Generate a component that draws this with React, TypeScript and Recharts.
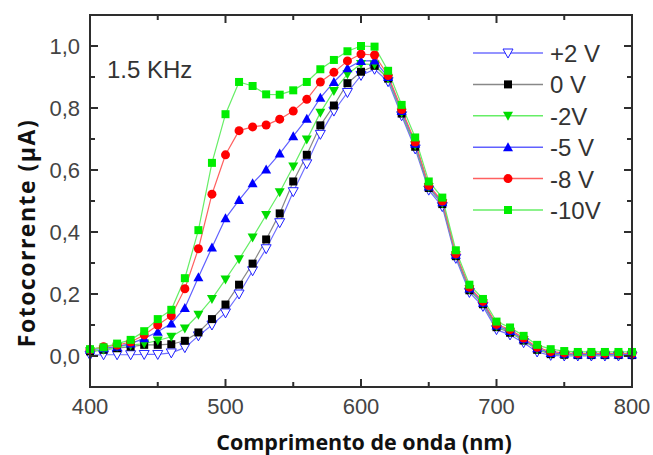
import React from 'react';
import { LineChart, Line, XAxis, YAxis, Legend } from 'recharts';

// comprimento de onda (nm)
const WAVELENGTH = [
  400, 410, 420, 430, 440, 450, 460, 470, 480, 490, 500, 510, 520, 530, 540, 550, 560, 570, 580, 590,
  600, 610, 620, 630, 640, 650, 660, 670, 680, 690, 700, 710, 720, 730, 740, 750, 760, 770, 780, 790, 800,
];

// fotocorrente (µA) por tensão
const PLUS_2V = [
  0.003, 0.004, 0.004, 0.004, 0.005, 0.005, 0.01, 0.027, 0.065, 0.1, 0.139, 0.2, 0.275, 0.346, 0.43, 0.53,
  0.62, 0.715, 0.79, 0.85, 0.905, 0.925, 0.885, 0.775, 0.668, 0.535, 0.482, 0.315, 0.205, 0.16, 0.085,
  0.068, 0.043, 0.013, 0.002, 0.0, 0.0, 0.0, 0.0, 0.0, 0.0,
];
const ZERO_V = [
  0.015, 0.02, 0.025, 0.03, 0.036, 0.036, 0.038, 0.049, 0.076, 0.119, 0.166, 0.23, 0.298, 0.376, 0.46,
  0.563, 0.649, 0.744, 0.808, 0.88, 0.917, 0.936, 0.895, 0.782, 0.675, 0.542, 0.49, 0.322, 0.212, 0.167,
  0.093, 0.075, 0.05, 0.02, 0.006, 0.004, 0.003, 0.003, 0.003, 0.003, 0.003,
];
const MINUS_2V = [
  0.015, 0.02, 0.03, 0.035, 0.04, 0.05, 0.062, 0.089, 0.133, 0.184, 0.247, 0.312, 0.382, 0.455, 0.528,
  0.611, 0.698, 0.785, 0.855, 0.909, 0.942, 0.94, 0.895, 0.785, 0.68, 0.545, 0.493, 0.325, 0.215, 0.17,
  0.096, 0.078, 0.052, 0.022, 0.008, 0.005, 0.004, 0.004, 0.004, 0.004, 0.004,
];
const MINUS_5V = [
  0.02, 0.025, 0.03, 0.04, 0.057, 0.078, 0.105, 0.155, 0.254, 0.35, 0.444, 0.503, 0.557, 0.602, 0.653,
  0.709, 0.765, 0.833, 0.884, 0.928, 0.952, 0.953, 0.9, 0.79, 0.685, 0.547, 0.496, 0.327, 0.218, 0.172,
  0.098, 0.081, 0.054, 0.025, 0.01, 0.007, 0.005, 0.005, 0.005, 0.005, 0.005,
];
const MINUS_8V = [
  0.02, 0.03, 0.035, 0.045, 0.068, 0.1, 0.13, 0.217, 0.346, 0.522, 0.649, 0.727, 0.739, 0.745, 0.764,
  0.79, 0.828, 0.884, 0.915, 0.952, 0.974, 0.971, 0.905, 0.795, 0.69, 0.55, 0.5, 0.33, 0.222, 0.176,
  0.102, 0.085, 0.058, 0.028, 0.014, 0.01, 0.008, 0.008, 0.008, 0.008, 0.008,
];
const MINUS_10V = [
  0.022, 0.028, 0.04, 0.052, 0.08, 0.119, 0.149, 0.251, 0.406, 0.623, 0.78, 0.884, 0.871, 0.844, 0.843,
  0.857, 0.884, 0.925, 0.955, 0.983, 1.0, 0.998, 0.92, 0.81, 0.705, 0.563, 0.511, 0.341, 0.23, 0.184,
  0.111, 0.092, 0.065, 0.036, 0.022, 0.016, 0.013, 0.013, 0.013, 0.013, 0.013,
];

const X_TICKS = [400, 450, 500, 550, 600, 650, 700, 750, 800];
const Y_TICKS = [0, 0.1, 0.2, 0.3, 0.4, 0.5, 0.6, 0.7, 0.8, 0.9, 1.0];

type Shape = 'triDownOpen' | 'square' | 'triDown' | 'triUp' | 'circle';

const SERIES: { key: string; name: string; line: string; color: string; shape: Shape }[] = [
  { key: 'p2', name: '+2 V', line: '#7070ff', color: '#2020ff', shape: 'triDownOpen' },
  { key: 'z0', name: '0 V', line: '#888888', color: '#000000', shape: 'square' },
  { key: 'm2', name: '-2V', line: '#66ee66', color: '#00dd00', shape: 'triDown' },
  { key: 'm5', name: '-5 V', line: '#6060ff', color: '#0000ff', shape: 'triUp' },
  { key: 'm8', name: '-8 V', line: '#ff6060', color: '#ff0000', shape: 'circle' },
  { key: 'm10', name: '-10V', line: '#66ee66', color: '#00ee00', shape: 'square' },
];

const data = WAVELENGTH.map((nm, i) => ({
  nm,
  p2: PLUS_2V[i],
  z0: ZERO_V[i],
  m2: MINUS_2V[i],
  m5: MINUS_5V[i],
  m8: MINUS_8V[i],
  m10: MINUS_10V[i],
}));

const W = 653;
const H = 455;
const PLOT = { left: 90, right: 632, top: 15, bottom: 387 };
const AXIS_COLOR = '#2e2e2e';
const LABEL_COLOR = '#444444';
const X_DOMAIN = [400, 800];
const Y_DOMAIN = [-0.1, 1.1];

// same linear mapping as the chart's axes, used only for the box ticks
const px = (v: number) => PLOT.left + ((v - X_DOMAIN[0]) / (X_DOMAIN[1] - X_DOMAIN[0])) * (PLOT.right - PLOT.left);
const py = (v: number) => PLOT.bottom - ((v - Y_DOMAIN[0]) / (Y_DOMAIN[1] - Y_DOMAIN[0])) * (PLOT.bottom - PLOT.top);

const Marker = ({ shape, color, cx, cy }: { shape: Shape; color: string; cx: number; cy: number }) => {
  const s = 5;
  switch (shape) {
    case 'square':
      return <rect x={cx - 4} y={cy - 4} width={8} height={8} fill={color} />;
    case 'circle':
      return <circle cx={cx} cy={cy} r={4.5} fill={color} />;
    case 'triUp':
      return <polygon points={`${cx - s},${cy + 4} ${cx + s},${cy + 4} ${cx},${cy - 5}`} fill={color} />;
    case 'triDown':
      return <polygon points={`${cx - s},${cy - 4} ${cx + s},${cy - 4} ${cx},${cy + 5}`} fill={color} />;
    default:
      return (
        <polygon
          points={`${cx - s},${cy - 4} ${cx + s},${cy - 4} ${cx},${cy + 5}`}
          fill="#ffffff"
          stroke={color}
          strokeWidth={1}
        />
      );
  }
};

const makeDot = (shape: Shape, color: string) => (props: any) => {
  const { cx, cy, index } = props;
  if (cx == null || cy == null) return <g key={index} />;
  return (
    <g key={index}>
      <Marker shape={shape} color={color} cx={cx} cy={cy} />
    </g>
  );
};

const isMajorX = (v: number) => v % 100 === 0;
const isMajorY = (v: number) => Math.round(v * 10) % 2 === 0;

const XTick = ({ x, payload }: any) =>
  isMajorX(payload.value) ? (
    <text x={x} y={PLOT.bottom + 27} textAnchor="middle" fontSize={22} fill={LABEL_COLOR}>
      {payload.value}
    </text>
  ) : (
    <g />
  );

const YTick = ({ y, payload }: any) =>
  isMajorY(payload.value) ? (
    <text x={PLOT.left - 10} y={y + 8} textAnchor="end" fontSize={22} fill={LABEL_COLOR}>
      {payload.value.toFixed(1).replace('.', ',')}
    </text>
  ) : (
    <g />
  );

// closed box with inward ticks on all four sides
const Frame = () => (
  <svg width={W} height={H} style={{ position: 'absolute', left: 0, top: 0, pointerEvents: 'none' }}>
    <rect
      x={PLOT.left}
      y={PLOT.top}
      width={PLOT.right - PLOT.left}
      height={PLOT.bottom - PLOT.top}
      fill="none"
      stroke={AXIS_COLOR}
      strokeWidth={2}
    />
    {X_TICKS.map((v) => {
      const len = isMajorX(v) ? 8 : 5;
      return (
        <g key={`x${v}`}>
          <line x1={px(v)} x2={px(v)} y1={PLOT.bottom} y2={PLOT.bottom - len} stroke={AXIS_COLOR} strokeWidth={2} />
          <line x1={px(v)} x2={px(v)} y1={PLOT.top} y2={PLOT.top + len} stroke={AXIS_COLOR} strokeWidth={2} />
        </g>
      );
    })}
    {Y_TICKS.map((v) => {
      const len = isMajorY(v) ? 8 : 5;
      return (
        <g key={`y${v}`}>
          <line x1={PLOT.left} x2={PLOT.left + len} y1={py(v)} y2={py(v)} stroke={AXIS_COLOR} strokeWidth={2} />
          <line x1={PLOT.right} x2={PLOT.right - len} y1={py(v)} y2={py(v)} stroke={AXIS_COLOR} strokeWidth={2} />
        </g>
      );
    })}
  </svg>
);

const LegendBox = () => (
  <svg width={180} height={190}>
    {SERIES.map((s, i) => {
      const y = 15 + i * 31.4;
      return (
        <g key={s.key}>
          <line x1={3} x2={73} y1={y} y2={y} stroke={s.line} strokeWidth={1.5} />
          <Marker shape={s.shape} color={s.color} cx={38} cy={y} />
          <text x={80} y={y + 9} fontSize={24} fill="#333333">
            {s.name}
          </text>
        </g>
      );
    })}
  </svg>
);

const App: React.FC = () => {
  return (
    <div
      style={{
        position: 'absolute',
        left: 0,
        top: 0,
        width: W,
        height: H,
        background: '#ffffff',
        overflow: 'hidden',
        fontFamily: '"Liberation Sans", Arial, sans-serif',
      }}
    >
      <LineChart
        width={W}
        height={H}
        data={data}
        margin={{ top: PLOT.top, right: W - PLOT.right, bottom: 0, left: 0 }}
      >
        <XAxis
          dataKey="nm"
          type="number"
          domain={X_DOMAIN}
          ticks={X_TICKS}
          height={H - PLOT.bottom}
          axisLine={{ stroke: AXIS_COLOR, strokeWidth: 2 }}
          tickLine={false}
          tick={XTick}
          interval={0}
        />
        <YAxis
          type="number"
          domain={Y_DOMAIN}
          ticks={Y_TICKS}
          width={PLOT.left}
          axisLine={{ stroke: AXIS_COLOR, strokeWidth: 2 }}
          tickLine={false}
          tick={YTick}
          interval={0}
        />
        <Legend
          layout="vertical"
          align="center"
          verticalAlign="middle"
          content={() => <LegendBox />}
          wrapperStyle={{ left: 470, top: 38, width: 180 }}
        />
        {SERIES.map((s) => (
          <Line
            key={s.key}
            dataKey={s.key}
            name={s.name}
            type="linear"
            stroke={s.line}
            strokeWidth={1.2}
            dot={makeDot(s.shape, s.color)}
            activeDot={false}
            isAnimationActive={false}
          />
        ))}
      </LineChart>

      <Frame />

      <div style={{ position: 'absolute', left: 107, top: 56, fontSize: 24, color: '#333333', whiteSpace: 'nowrap' }}>
        1.5 KHz
      </div>
      <div
        style={{
          position: 'absolute',
          left: 364,
          top: 442,
          transform: 'translate(-50%, -50%)',
          fontFamily: '"Open Sans", sans-serif',
          fontWeight: 700,
          fontSize: 21.5,
          lineHeight: '20px',
          color: '#111111',
          whiteSpace: 'nowrap',
        }}
      >
        Comprimento de onda (nm)
      </div>
      <div
        style={{
          position: 'absolute',
          left: 26,
          top: 233,
          transform: 'translate(-50%, -50%) rotate(-90deg)',
          fontFamily: '"Open Sans", sans-serif',
          fontWeight: 700,
          fontSize: 23,
          lineHeight: '22px',
          letterSpacing: '1.5px',
          color: '#111111',
          whiteSpace: 'nowrap',
        }}
      >
        Fotocorrente (µA)
      </div>
    </div>
  );
};

export default App;
